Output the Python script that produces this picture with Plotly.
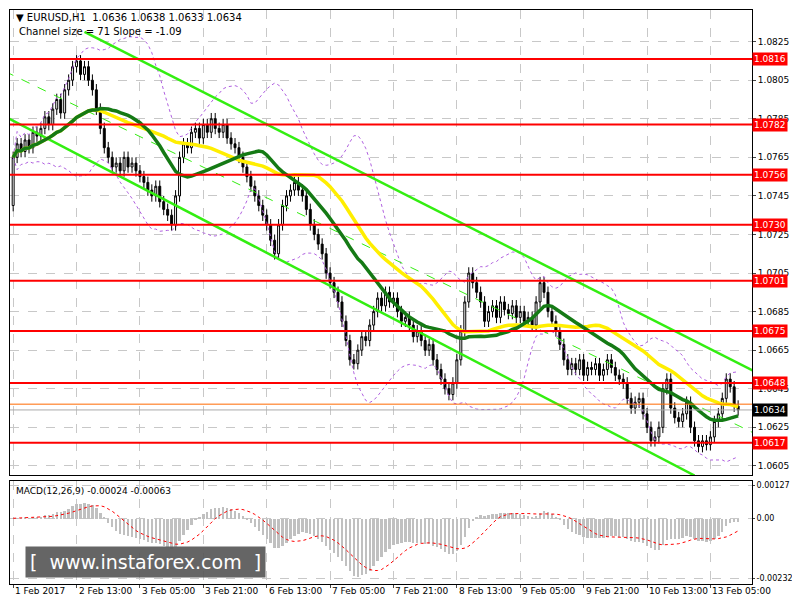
import plotly.graph_objects as go
import pandas as pd
import numpy as np

closes = [1.0765,1.0772,1.0768,1.0774,1.0770,1.0778,
1.0776,1.0780,1.0786,1.0782,1.0790,
1.0795,1.0788,1.0800,1.0805,1.0812,
1.0815,1.0808,1.0812,1.0805,1.0800,
1.0790,1.0780,1.0770,1.0765,1.0760,
1.0762,1.0758,1.0765,1.0760,1.0762,
1.0758,1.0755,1.0752,1.0748,1.0745,
1.0750,1.0742,1.0738,1.0735,1.0730,
1.0745,1.0765,1.0772,1.0770,1.0778,
1.0780,1.0775,1.0782,1.0778,1.0785,
1.0780,1.0778,1.0782,1.0775,1.0772,
1.0770,1.0765,1.0760,1.0755,1.0750,
1.0745,1.0740,1.0735,1.0730,1.0722,
1.0715,1.0730,1.0740,1.0745,1.0748,
1.0752,1.0748,1.0745,1.0738,1.0730,
1.0725,1.0720,1.0715,1.0705,1.0700,
1.0695,1.0690,1.0680,1.0670,1.0660,
1.0658,1.0665,1.0672,1.0670,1.0678,
1.0685,1.0692,1.0688,1.0695,1.0690,
1.0692,1.0685,1.0680,1.0682,1.0678,
1.0672,1.0675,1.0670,1.0665,1.0668,
1.0660,1.0655,1.0650,1.0645,1.0642,
1.0648,1.0660,1.0675,1.0690,1.0705,
1.0700,1.0695,1.0690,1.0680,1.0685,
1.0688,1.0682,1.0690,1.0686,1.0684,
1.0688,1.0682,1.0685,1.0680,1.0682,
1.0678,1.0690,1.0700,1.0695,1.0685,
1.0680,1.0675,1.0668,1.0660,1.0655,
1.0658,1.0655,1.0660,1.0652,1.0656,
1.0655,1.0658,1.0652,1.0655,1.0660,
1.0656,1.0652,1.0650,1.0648,1.0640,
1.0635,1.0638,1.0640,1.0632,1.0625,
1.0618,1.0620,1.0625,1.0645,1.0650,
1.0635,1.0630,1.0628,1.0632,1.0638,
1.0625,1.0618,1.0615,1.0618,1.0616,
1.0620,1.0628,1.0632,1.0640,1.0650,
1.0646,1.0636,1.0634]
first_open = 1.0740
wick = 0.0003

levels = [1.0816, 1.0782, 1.0756, 1.0730, 1.0701, 1.0675, 1.0648, 1.0617]
tick_labels = ["1 Feb 2017","2 Feb 13:00","3 Feb 05:00","3 Feb 21:00","6 Feb 13:00","7 Feb 05:00",
               "7 Feb 21:00","8 Feb 13:00","9 Feb 05:00","9 Feb 21:00","10 Feb 13:00","13 Feb 05:00"]
tick_pos = [0,16,32,48,64,80,96,112,128,144,160,176]
upper_ch = ([18, 189], [1.0830, 1.0652])
lower_ch = ([-1, 172], [1.0785, 1.0600])
price_ticks = [1.0825,1.0805,1.0785,1.0765,1.0745,1.0725,1.0705,1.0685,1.0665,1.0645,1.0625,1.0605]

n = len(closes)
x = list(range(n))
opens = [first_open] + closes[:-1]
highs = [max(o, c) + wick for o, c in zip(opens, closes)]
lows = [min(o, c) - wick for o, c in zip(opens, closes)]
s = pd.Series(closes)
yellow = s.rolling(36, min_periods=1).mean()
green = s.rolling(22, min_periods=1).mean()
bm = s.rolling(20, min_periods=1).mean()
bs = s.rolling(20, min_periods=1).std().fillna(0)
macd = s.ewm(span=12).mean() - s.ewm(span=26).mean()
sig = macd.rolling(9, min_periods=1).mean()

fig = go.Figure()
for lv in levels:
    fig.add_shape(type="line", xref="paper", x0=0, x1=1, y0=lv, y1=lv, yref="y",
                  line=dict(color="#ff0000", width=2))
fig.add_shape(type="line", xref="paper", x0=0, x1=1, y0=1.0637, y1=1.0637, yref="y",
              line=dict(color="#ff6a00", width=1))
fig.add_shape(type="line", xref="paper", x0=0, x1=1, y0=1.0634, y1=1.0634, yref="y",
              line=dict(color="#aaaaaa", width=1))
fig.add_trace(go.Scatter(x=x, y=bm + 2*bs, mode="lines", line=dict(color="#b060e0", width=1, dash="dot"), hoverinfo="skip"))
fig.add_trace(go.Scatter(x=x, y=bm - 2*bs, mode="lines", line=dict(color="#b060e0", width=1, dash="dot"), hoverinfo="skip"))
fig.add_trace(go.Scatter(x=upper_ch[0], y=upper_ch[1], mode="lines", line=dict(color="#33ee11", width=2.5)))
fig.add_trace(go.Scatter(x=lower_ch[0], y=lower_ch[1], mode="lines", line=dict(color="#33ee11", width=2.5)))
fig.add_trace(go.Scatter(x=[upper_ch[0][0]-20, upper_ch[0][1]],
                         y=[(upper_ch[1][0]+lower_ch[1][0])/2 + 0.0002, (upper_ch[1][1]+lower_ch[1][1])/2 - 0.0006],
                         mode="lines", line=dict(color="#33ee11", width=1, dash="dash")))
fig.add_trace(go.Scatter(x=x, y=yellow, mode="lines", line=dict(color="#ffee00", width=3.5)))
fig.add_trace(go.Scatter(x=x, y=green, mode="lines", line=dict(color="#157a15", width=3.5)))
fig.add_trace(go.Candlestick(x=x, open=opens, high=highs, low=lows, close=closes,
                             increasing=dict(line=dict(color="black", width=1), fillcolor="white"),
                             decreasing=dict(line=dict(color="black", width=1), fillcolor="black"),
                             whiskerwidth=0))
fig.add_trace(go.Bar(x=x, y=macd, marker_color="#c0c0c0", marker_line_width=0, xaxis="x2", yaxis="y2", width=0.6))
fig.add_trace(go.Scatter(x=x, y=sig, mode="lines", line=dict(color="#ff0000", width=1, dash="dot"), xaxis="x2", yaxis="y2"))

for lv in levels:
    fig.add_annotation(x=1, xref="paper", xanchor="left", y=lv, yref="y", text=f"{lv:.4f}", showarrow=False,
                       bgcolor="#ff0000", font=dict(color="white", size=9, family="DejaVu Sans"), borderpad=1)
fig.add_annotation(x=1, xref="paper", xanchor="left", y=1.0634, yref="y", text="1.0634", showarrow=False,
                   bgcolor="black", font=dict(color="white", size=9, family="DejaVu Sans"), borderpad=1)
for tp, tl in zip(tick_pos, tick_labels):
    fig.add_annotation(x=tp, xref="x2", xanchor="left", y=0, yref="paper", yanchor="top", yshift=0,
                       text=tl, showarrow=False, font=dict(size=9, color="black"))
fig.add_annotation(x=0.005, xref="paper", y=1.0, yref="paper", xanchor="left", yanchor="top", showarrow=False,
                   text="▼ EURUSD,H1  1.0636 1.0638 1.0633 1.0634", font=dict(size=10, color="black"))
fig.add_annotation(x=0.01, xref="paper", y=0.975, yref="paper", xanchor="left", yanchor="top", showarrow=False,
                   text="Channel size = 71 Slope = -1.09", font=dict(size=10, color="black"))
fig.add_annotation(x=0.005, xref="paper", y=0.175, yref="paper", xanchor="left", yanchor="top", showarrow=False,
                   text="MACD(12,26,9) -0.00024 -0.00063", font=dict(size=9, color="black"))
fig.add_annotation(x=0.02, xref="paper", y=0.01, yref="paper", xanchor="left", yanchor="bottom", showarrow=False,
                   text="[  www.instaforex.com  ]", bgcolor="#555555", opacity=0.9, borderpad=4,
                   font=dict(size=19, color="white", family="DejaVu Sans"))

ax = dict(range=[-0.8, 186.5], showgrid=True, gridcolor="#c8c8c8", griddash="dash", zeroline=False,
          tickvals=tick_pos, linecolor="black", mirror=True, showline=True, showticklabels=False)
fig.update_layout(
    width=800, height=600, paper_bgcolor="white", plot_bgcolor="white", showlegend=False,
    margin=dict(l=2, r=56, t=2, b=24), bargap=0,
    font=dict(family="DejaVu Sans", size=9, color="black"),
    xaxis=dict(**ax, anchor="y", rangeslider=dict(visible=False)),
    xaxis2=dict(**ax, anchor="y2", ticks="outside", ticklen=3),
    yaxis=dict(domain=[0.19, 1], range=[1.06003, 1.08414], side="right", tickvals=price_ticks,
               tickformat=".4f", showgrid=True, gridcolor="#c8c8c8", griddash="dash",
               linecolor="black", mirror=True, showline=True, zeroline=False, ticks="outside", ticklen=3),
    yaxis2=dict(domain=[0, 0.18], range=[-0.00255, 0.00146], side="right",
                tickvals=[0.00127, 0, -0.00232], ticktext=["0.00127", "0.00", "-0.00232"],
                showgrid=True, gridcolor="#c8c8c8", griddash="dash", zeroline=False,
                linecolor="black", mirror=True, showline=True, ticks="outside", ticklen=2, tickfont=dict(size=8)),
)
fig.write_html("out.html")
